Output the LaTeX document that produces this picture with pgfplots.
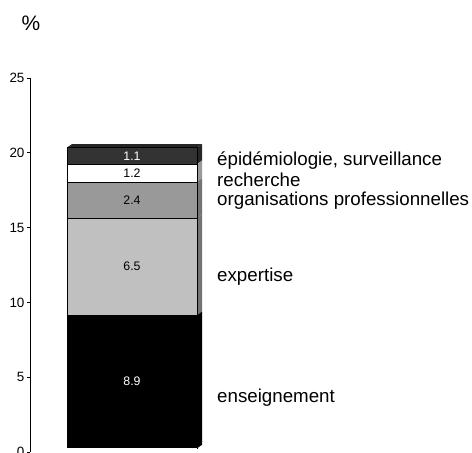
\documentclass[border=0pt]{standalone}
\usepackage{pgfplots}
\pgfplotsset{compat=1.18}
\usepackage{fontspec}
\setmainfont{Liberation Sans}
\definecolor{segA}{HTML}{000000}
\definecolor{segB}{HTML}{C0C0C0}
\definecolor{segC}{HTML}{999999}
\definecolor{segD}{HTML}{FFFFFF}
\definecolor{segE}{HTML}{333333}
\tikzset{
  clab/.style={font=\fontsize{18.8}{20}\selectfont, anchor=west, inner sep=0pt},
}
% fill colour, label, label colour (stacked labels sit mid-segment already)
\pgfplotsset{
  seg/.style n args={3}{fill=#1, draw=black, line width=0.5bp,
    nodes near coords={#2},
    every node near coord/.style={anchor=center, text=#3,
      inner sep=0pt, font=\fontsize{12.4}{13}\selectfont}},
}
\begin{document}
\begin{tikzpicture}[x=1bp,y=1bp]
\begin{axis}[
    at={(0,0)}, anchor=origin,
    scale only axis,
    width=440bp, height=374bp,
    xmin=0, xmax=440,
    ymin=0, ymax=25,
    axis x line=none,
    axis y line*=left,
    ytick={0,5,10,15,20,25},
    tick align=outside,
    major tick length=3bp,
    tick style={black, line width=0.6bp},
    axis line style={black, line width=0.7bp},
    yticklabel style={font=\fontsize{13.5}{14}\selectfont, xshift=1bp},
    /pgf/number format/assume math mode=true,
    ybar stacked,
    bar width=130bp,
    clip=false,
  ]
  % floor offset of the 3D front face
  \addplot[draw=none, fill=white, forget plot] coordinates {(102,0.25)};
  \addplot[seg={segA}{8.9}{white}] coordinates {(102,8.9)};
  \addplot[seg={segB}{6.5}{black}] coordinates {(102,6.5)};
  \addplot[seg={segC}{2.4}{black}] coordinates {(102,2.4)};
  \addplot[seg={segD}{1.2}{black}] coordinates {(102,1.2)};
  \addplot[seg={segE}{1.1}{white}] coordinates {(102,1.1)};

  % side and top faces
  \fill[black] (axis cs:167,0.25) -- (axis cs:172,0.48) -- (axis cs:172,9.38) -- (axis cs:167,9.15) -- cycle;
  \fill[gray!90!black] (axis cs:167,9.15) -- (axis cs:172,9.38) -- (axis cs:172,15.88) -- (axis cs:167,15.65) -- cycle;
  \fill[black!55] (axis cs:167,15.65) -- (axis cs:172,15.88) -- (axis cs:172,18.28) -- (axis cs:167,18.05) -- cycle;
  \fill[black!40] (axis cs:167,18.05) -- (axis cs:172,18.28) -- (axis cs:172,19.48) -- (axis cs:167,19.25) -- cycle;
  \fill[black!85] (axis cs:167,19.25) -- (axis cs:172,19.48) -- (axis cs:172,20.58) -- (axis cs:167,20.35) -- cycle;
  \fill[black!85] (axis cs:37,20.35) -- (axis cs:42,20.58) -- (axis cs:172,20.58) -- (axis cs:167,20.35) -- cycle;

  \node[clab] at (axis cs:187,19.5) {épidémiologie, surveillance};
  \node[clab] at (axis cs:187,18.18) {recherche};
  \node[clab] at (axis cs:187,16.8) {organisations professionnelles};
  \node[clab] at (axis cs:187,11.7) {expertise};
  \node[clab] at (axis cs:187,3.6) {enseignement};
\end{axis}
\node[font=\fontsize{21}{22}\selectfont] at (1,429) {\%};
\pgfresetboundingbox
\useasboundingbox (-30,-0.1) rectangle (442,452);
\end{tikzpicture}
\end{document}
